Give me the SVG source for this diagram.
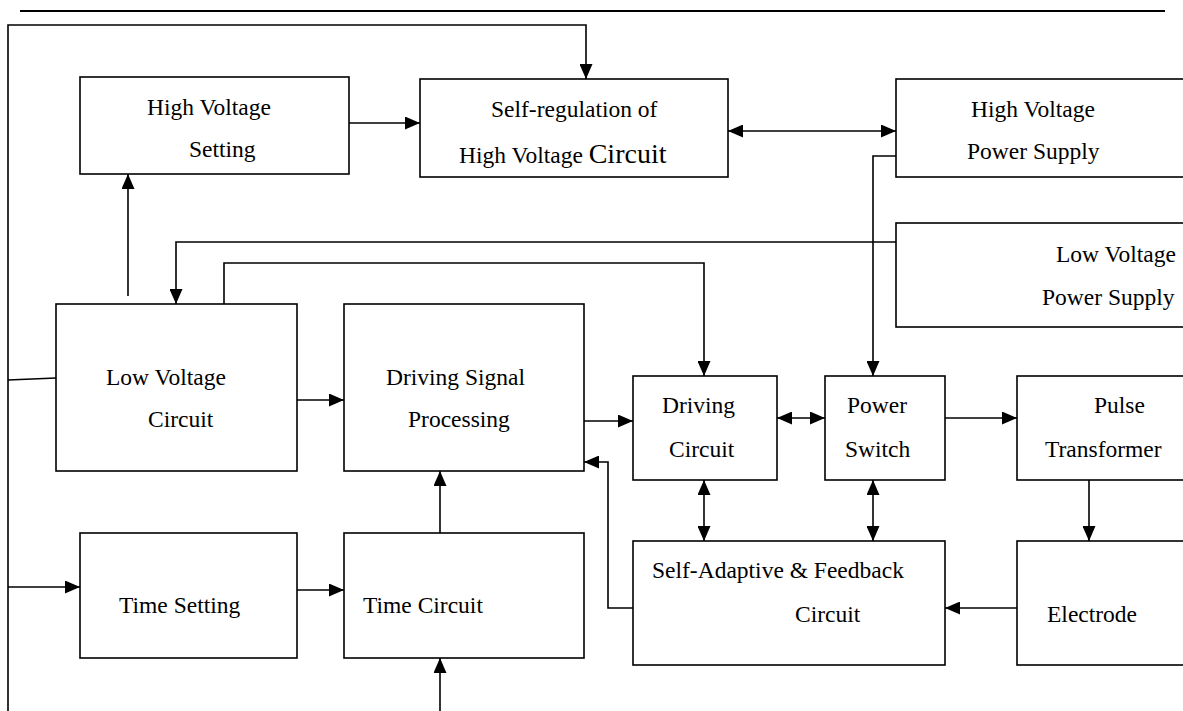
<svg xmlns="http://www.w3.org/2000/svg" width="1183" height="711" viewBox="0 0 1183 711">
<style>
.box{fill:#fff;stroke:#000;stroke-width:1.6}
.ln{fill:none;stroke:#000;stroke-width:1.6}
.t{font-family:"Liberation Serif","Times New Roman",serif;font-size:23.5px;fill:#000}
.big{font-size:28px}
</style>
<defs>
<marker id="ah" markerUnits="userSpaceOnUse" markerWidth="15" markerHeight="13" refX="15" refY="6.5" orient="auto-start-reverse" viewBox="0 0 15 13">
<path d="M0,0 L15,6.5 L0,13 z" fill="#000"/>
</marker>
</defs>
<rect width="1183" height="711" fill="#fff"/>
<line x1="20" y1="11" x2="1165" y2="11" stroke="#000" stroke-width="2"/>

<g id="hv-setting">
<rect class="box" x="80" y="77" width="269" height="97"/>
<text class="t" x="147" y="115">High Voltage</text>
<text class="t" x="189" y="157">Setting</text>
</g>
<g id="self-regulation">
<rect class="box" x="420" y="79" width="308" height="98"/>
<text class="t" x="491" y="117">Self-regulation of</text>
<text class="t" x="459" y="163">High Voltage <tspan class="big">Circuit</tspan></text>
</g>
<g id="hv-power-supply">
<rect class="box" x="896" y="79" width="300" height="98"/>
<text class="t" x="971" y="117">High Voltage</text>
<text class="t" x="967" y="159">Power Supply</text>
</g>
<g id="lv-power-supply">
<rect class="box" x="896" y="223" width="300" height="104"/>
<text class="t" x="1056" y="262">Low Voltage</text>
<text class="t" x="1042" y="305">Power Supply</text>
</g>
<g id="lv-circuit">
<rect class="box" x="56" y="304" width="241" height="167"/>
<text class="t" x="106" y="385">Low Voltage</text>
<text class="t" x="148" y="427">Circuit</text>
</g>
<g id="driving-signal">
<rect class="box" x="344" y="304" width="240" height="167"/>
<text class="t" x="386" y="385">Driving Signal</text>
<text class="t" x="408" y="427">Processing</text>
</g>
<g id="driving-circuit">
<rect class="box" x="633" y="376" width="144" height="104"/>
<text class="t" x="662" y="413">Driving</text>
<text class="t" x="669" y="457">Circuit</text>
</g>
<g id="power-switch">
<rect class="box" x="825" y="376" width="120" height="104"/>
<text class="t" x="847" y="413">Power</text>
<text class="t" x="845" y="457">Switch</text>
</g>
<g id="pulse-transformer">
<rect class="box" x="1017" y="376" width="180" height="104"/>
<text class="t" x="1094" y="413">Pulse</text>
<text class="t" x="1045" y="457">Transformer</text>
</g>
<g id="self-adaptive">
<rect class="box" x="633" y="541" width="312" height="124"/>
<text class="t" x="652" y="578">Self-Adaptive &amp; Feedback</text>
<text class="t" x="795" y="622">Circuit</text>
</g>
<g id="electrode">
<rect class="box" x="1017" y="541" width="180" height="124"/>
<text class="t" x="1047" y="622">Electrode</text>
</g>
<g id="time-setting">
<rect class="box" x="80" y="533" width="217" height="125"/>
<text class="t" x="119" y="613">Time Setting</text>
</g>
<g id="time-circuit">
<rect class="box" x="344" y="533" width="240" height="125"/>
<text class="t" x="363" y="613">Time Circuit</text>
</g>

<g id="connectors">
<polyline class="ln" points="8,711 8,25 586,25 586,79" marker-end="url(#ah)"/>
<polyline class="ln" points="8,380 56,378"/>
<polyline class="ln" points="8,587 80,587" marker-end="url(#ah)"/>
<polyline class="ln" points="349,123 420,123" marker-end="url(#ah)"/>
<polyline class="ln" points="728,131 896,131" marker-start="url(#ah)" marker-end="url(#ah)"/>
<polyline class="ln" points="896,156 873,156 873,376" marker-end="url(#ah)"/>
<polyline class="ln" points="896,242 176,242 176,304" marker-end="url(#ah)"/>
<polyline class="ln" points="224,304 224,263 704,263 704,376" marker-end="url(#ah)"/>
<polyline class="ln" points="128,296 128,174" marker-end="url(#ah)"/>
<polyline class="ln" points="297,400 344,400" marker-end="url(#ah)"/>
<polyline class="ln" points="584,421 633,421" marker-end="url(#ah)"/>
<polyline class="ln" points="777,418 825,418" marker-start="url(#ah)" marker-end="url(#ah)"/>
<polyline class="ln" points="945,418 1017,418" marker-end="url(#ah)"/>
<polyline class="ln" points="1089,480 1089,541" marker-end="url(#ah)"/>
<polyline class="ln" points="1017,608 945,608" marker-end="url(#ah)"/>
<polyline class="ln" points="704,480 704,541" marker-start="url(#ah)" marker-end="url(#ah)"/>
<polyline class="ln" points="873,480 873,541" marker-start="url(#ah)" marker-end="url(#ah)"/>
<polyline class="ln" points="633,608 608,608 608,462 584,462" marker-end="url(#ah)"/>
<polyline class="ln" points="297,590 344,590" marker-end="url(#ah)"/>
<polyline class="ln" points="440,533 440,471" marker-end="url(#ah)"/>
<polyline class="ln" points="440,711 440,658" marker-end="url(#ah)"/>
</g>
</svg>
